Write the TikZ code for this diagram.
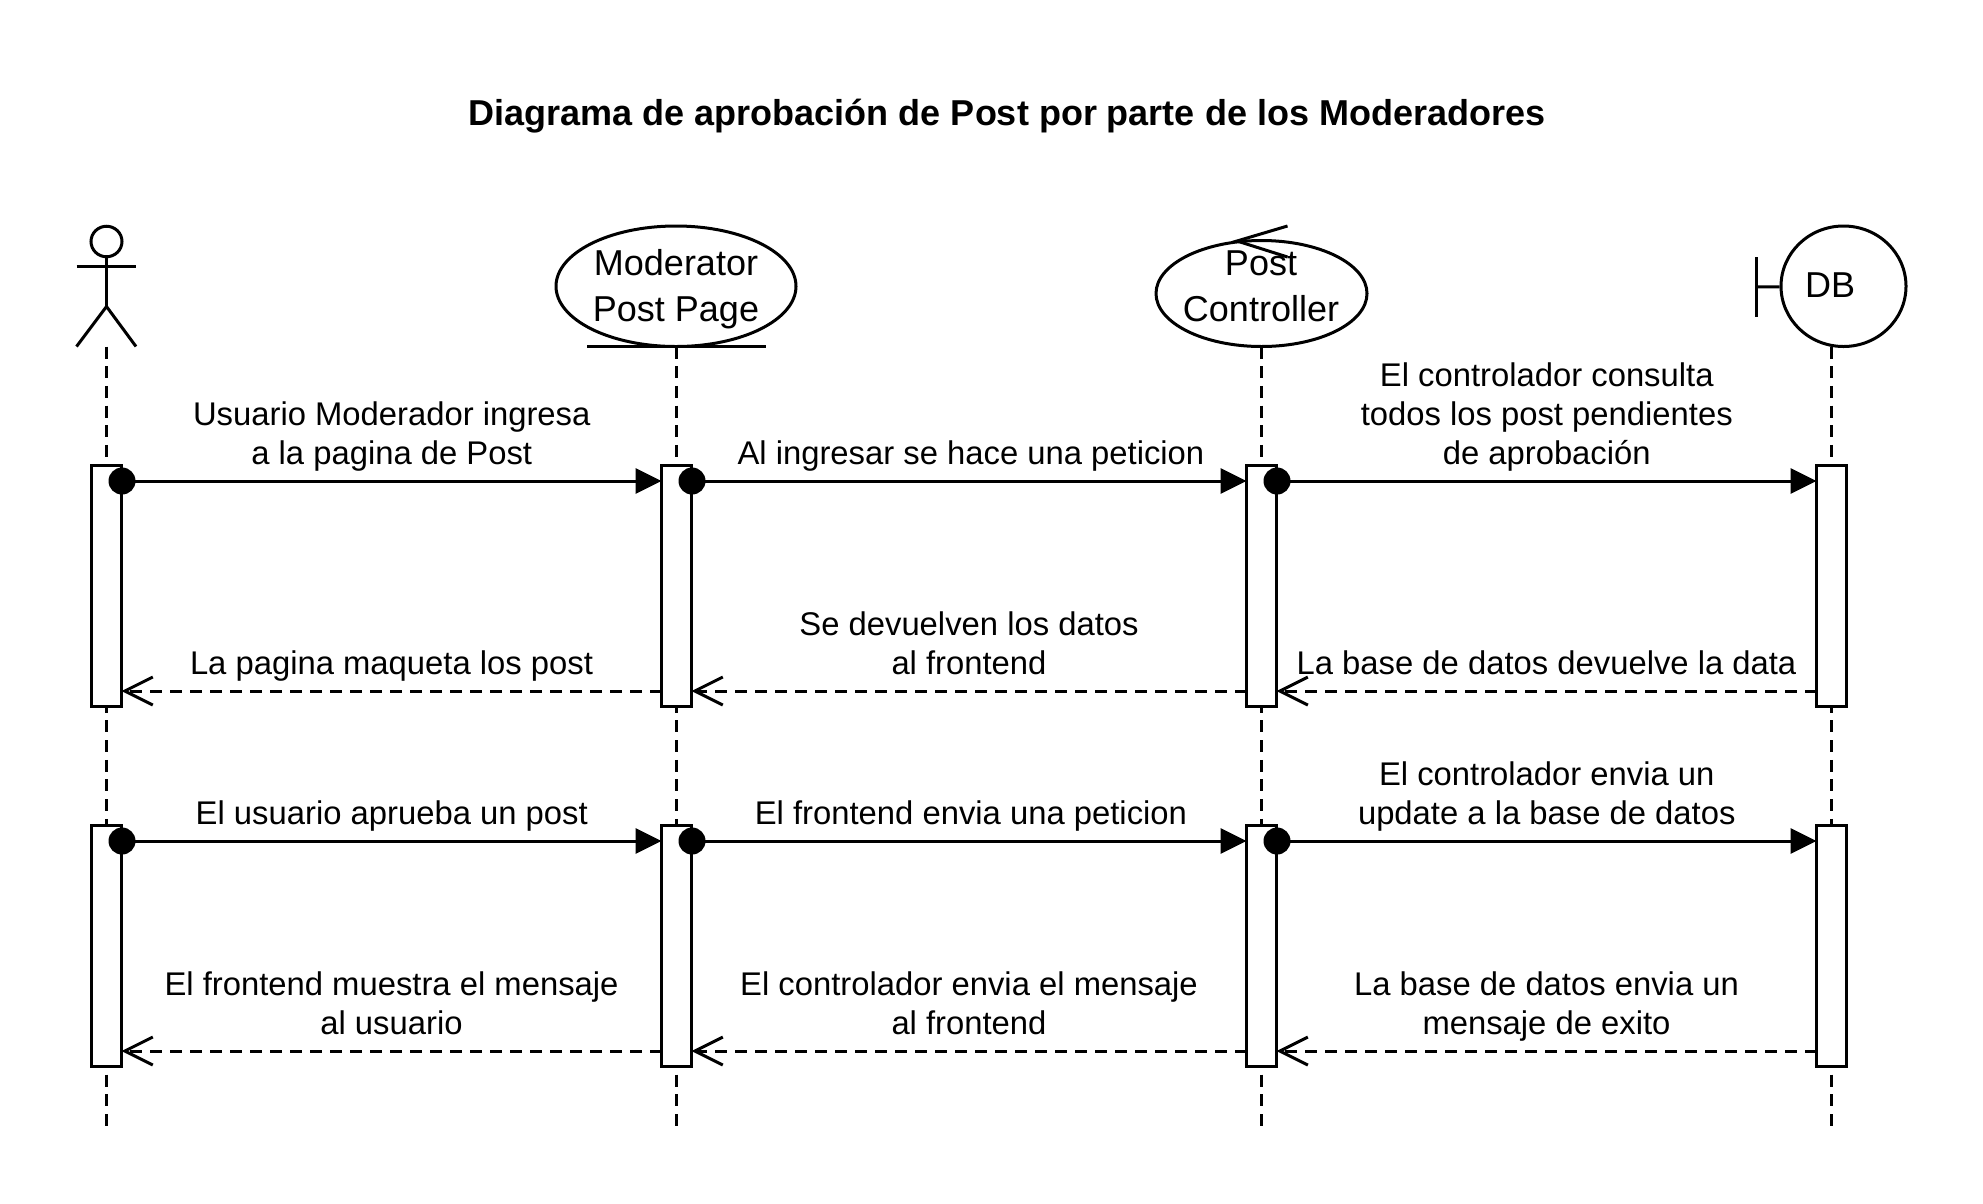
\documentclass[tikz,border=0pt]{standalone}
\usepackage{fontspec}
\setmainfont{Liberation Sans}
\usetikzlibrary{arrows.meta,shapes.geometric}
\begin{document}
\begin{tikzpicture}[x=1pt,y=-1pt]
	% Styles
	\tikzstyle{trazo}=[line width=3pt,black]
	\tikzstyle{vida}=[trazo,dash pattern=on 12pt off 7.68pt]
	\tikzstyle{activ}=[trazo,draw,fill=white,minimum width=30pt,inner sep=0pt,outer sep=0pt]
	\tikzstyle{punto}=[fill=black,circle,minimum size=27pt,inner sep=0pt]
	\tikzstyle{llamada}=[trazo,-{Triangle[length=26pt,width=25pt]}]
	\tikzstyle{retorno}=[trazo,dash pattern=on 12pt off 8pt,-{Straight Barb[length=28pt,width=28pt]}]
	\tikzstyle{etiqueta}=[anchor=base,align=center,inner sep=0pt,yshift=16.3pt,font=\fontsize{32.8}{39.2}\selectfont]
	\tikzstyle{forma}=[trazo,draw,ellipse,inner sep=0pt,align=center,font=\fontsize{36}{45.5}\selectfont]
	\tikzstyle{cabecera}=[align=center,inner sep=0pt,font=\fontsize{36}{45.5}\selectfont]
	\tikzstyle{titulo}=[inner sep=0pt,font=\bfseries\fontsize{36}{44}\selectfont]
	% Dimensions
	\def\xA{106.5}
	\def\xB{676.5}
	\def\xC{1261.5}
	\def\xD{1831.5}
	\def\yPie{346.5}
	\def\yFin{1126}
	\useasboundingbox (0,0) rectangle (1983,1203);
	% Titulo
	\node[titulo] (Titre) at (1007,116) {Diagrama de aprobación de Post por parte de los Moderadores};
	% Actor
	\node[trazo,draw,ellipse,minimum width=31pt,minimum height=30.5pt,inner sep=0pt] (Cabeza) at (\xA,241.5) {};
	\coordinate (Cadera) at (\xA,306.5);
	\coordinate (BrazoI) at (76.5,266.5);
	\coordinate (BrazoD) at (136,266.5);
	\coordinate (PieI) at (76.5,\yPie);
	\coordinate (PieD) at (136,\yPie);
	\coordinate (Pa) at (\xA,\yPie);
	\draw[trazo] (Cabeza) -- (Cadera);
	\draw[trazo] (BrazoI) -- (BrazoD);
	\draw[trazo] (PieI) -- (Cadera) -- (PieD);
	% Cabeceras
	\node[forma,minimum width=240pt,minimum height=120.5pt] (Page) at (676,286.25) {};
	\node[cabecera] (PageT) at (676,289) {Moderator\\Post Page};
	\coordinate (SubI) at (587,\yPie);
	\coordinate (SubD) at (766,\yPie);
	\draw[trazo] (SubI) -- (SubD);
	\node[forma,minimum width=211pt,minimum height=106pt] (Ctrl) at (\xC,293.5) {};
	\coordinate (Punta) at (1237,241);
	\coordinate (PuntaA) at (1287.5,226);
	\coordinate (PuntaB) at (1287.5,257);
	\draw[trazo] (PuntaA) -- (Punta) -- (PuntaB);
	\node[cabecera] (CtrlT) at (1261,286.5) {Post\\Controller};
	\node[forma,minimum width=125pt,minimum height=120.5pt] (Base) at (1843.5,286.25) {};
	\node[cabecera] (BaseT) at (1830,285) {DB};
	\coordinate (BordeA) at (1756,257);
	\coordinate (BordeB) at (1756,317);
	\coordinate (BordeC) at (1756,287);
	\draw[trazo] (BordeA) -- (BordeB);
	\draw[trazo] (BordeC) -- (Base);
	% Lineas de vida
	\coordinate (FinA) at (\xA,\yFin);
	\coordinate (FinB) at (\xB,\yFin);
	\coordinate (FinC) at (\xC,\yFin);
	\coordinate (FinD) at (\xD,\yFin);
	\coordinate (Pb) at (\xB,\yPie);
	\coordinate (Pc) at (\xC,\yPie);
	\coordinate (Pd) at (\xD,\yPie);
	\draw[vida] (Pa) -- (FinA);
	\draw[vida] (Pb) -- (FinB);
	\draw[vida] (Pc) -- (FinC);
	\draw[vida] (Pd) -- (FinD);
	% Activaciones
	\node[activ,minimum height=240.5pt] (A1) at (\xA,585.75) {};
	\node[activ,minimum height=240.5pt] (B1) at (\xB,585.75) {};
	\node[activ,minimum height=240.5pt] (C1) at (\xC,585.75) {};
	\node[activ,minimum height=240.5pt] (D1) at (\xD,585.75) {};
	\node[activ,minimum height=240.5pt] (A2) at (\xA,946) {};
	\node[activ,minimum height=240.5pt] (B2) at (\xB,946) {};
	\node[activ,minimum height=240.5pt] (C2) at (\xC,946) {};
	\node[activ,minimum height=240.5pt] (D2) at (\xD,946) {};
	% Puntos
	\node[punto] (PA1) at (122,481) {};
	\node[punto] (PB1) at (692,481) {};
	\node[punto] (PC1) at (1277,481) {};
	\node[punto] (PA2) at (122,841) {};
	\node[punto] (PB2) at (692,841) {};
	\node[punto] (PC2) at (1277,841) {};
	\coordinate (R1) at (0,691);
	\coordinate (R2) at (0,1051);
	% Arcs
	\draw[llamada] (PA1.center) -- node[etiqueta] {Usuario Moderador ingresa\\a la pagina de Post} (B1.west |- PA1);
	\draw[llamada] (PB1.center) -- node[etiqueta,pos=.503] {Al ingresar se hace una peticion} (C1.west |- PB1);
	\draw[llamada] (PC1.center) -- node[etiqueta] {El controlador consulta\\todos los post pendientes\\de aprobación} (D1.west |- PC1);
	\draw[retorno] (B1.west |- R1) -- node[etiqueta] {La pagina maqueta los post} (A1.east |- R1);
	\draw[retorno] (C1.west |- R1) -- node[etiqueta] {Se devuelven los datos\\al frontend} (B1.east |- R1);
	\draw[retorno] (D1.west |- R1) -- node[etiqueta] {La base de datos devuelve la data} (C1.east |- R1);
	\draw[llamada] (PA2.center) -- node[etiqueta] {El usuario aprueba un post} (B2.west |- PA2);
	\draw[llamada] (PB2.center) -- node[etiqueta,pos=.503] {El frontend envia una peticion} (C2.west |- PB2);
	\draw[llamada] (PC2.center) -- node[etiqueta] {El controlador envia un\\update a la base de datos} (D2.west |- PC2);
	\draw[retorno] (B2.west |- R2) -- node[etiqueta] {El frontend muestra el mensaje\\al usuario} (A2.east |- R2);
	\draw[retorno] (C2.west |- R2) -- node[etiqueta] {El controlador envia el mensaje\\al frontend} (B2.east |- R2);
	\draw[retorno] (D2.west |- R2) -- node[etiqueta] {La base de datos envia un\\mensaje de exito} (C2.east |- R2);
\end{tikzpicture}
\end{document}
